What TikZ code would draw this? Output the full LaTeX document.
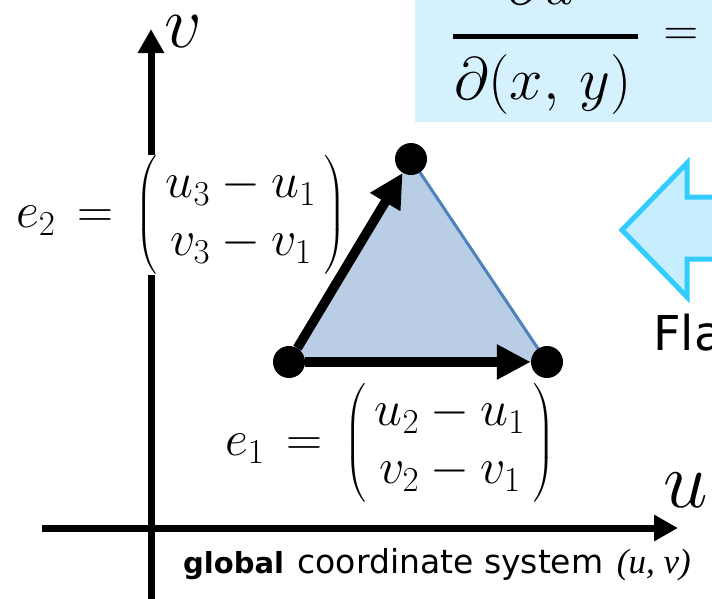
\RequirePackage{fix-cm}
\documentclass[tikz,border=0pt]{standalone}
\usepackage{amsmath}
\usepackage{fontspec}
\newfontfamily\labelfont{DejaVu Sans}
\newfontfamily\serifit{Liberation Serif}
\usetikzlibrary{arrows.meta}
\definecolor{boxblue}{HTML}{D5F1FD}
\definecolor{arrowfill}{HTML}{C6EEFF}
\definecolor{arrowline}{HTML}{33CCFF}
\definecolor{trifill}{HTML}{B9CDE5}
\definecolor{triedge}{HTML}{4F81BD}
\begin{document}
\begin{tikzpicture}[x=1pt,y=-1pt,
  axis/.style={line width=7pt,-{Triangle[length=24pt,width=25pt]}},
  edgevec/.style={line width=9.5pt,-{Triangle[length=34pt,width=33pt]}},
  vtx/.style={circle,fill=black,inner sep=0pt,minimum size=32pt},
  mathlbl/.style={inner sep=0pt,font=\fontsize{50}{58}\selectfont},
  axlbl/.style={inner sep=0pt,font=\fontsize{80}{80}\selectfont},
  fraclbl/.style={inner sep=0pt,font=\fontsize{60}{60}\selectfont},
  txtlbl/.style={inner sep=0pt,anchor=base west},
]
\useasboundingbox (0,0) rectangle (712,598);
\fill[white] (0,0) rectangle (712,598);

% formula box
\fill[boxblue] (415,-5) rectangle (720,122);
\coordinate (fracL) at (453,36.5);
\coordinate (fracR) at (638,36.5);
\draw[line width=4.5pt] (fracL) -- (fracR);
\node[fraclbl,anchor=base] (num) at (541,4) {$\partial u$};
\node[fraclbl] (den) at (543,84) {$\partial(x,\,y)$};
\node[inner sep=0pt,font=\fontsize{48}{48}\selectfont] (eq) at (681,37) {$=$};

% block arrow
\filldraw[draw=arrowline,fill=arrowfill,line width=5pt,line join=miter]
  (725,197) -- (687,197) -- (687,163) -- (622,230) -- (687,297) -- (687,259) -- (725,259) -- cycle;
\node[txtlbl,font=\labelfont\fontsize{48}{48}\selectfont] (flat) at (653,350) {Fla};

% axes
\coordinate (vb) at (151,610);
\coordinate (vt) at (151,29);
\coordinate (ul) at (42,528);
\coordinate (ur) at (678,528);
\draw[axis] (vb) -- (vt);
\draw[axis] (ul) -- (ur);
\node[axlbl,font=\fontsize{74}{74}\selectfont] (vlab) at (183,32) {$v$};
\node[axlbl] (ulab) at (686,490) {$u$};
\node[txtlbl,font=\labelfont\fontsize{33}{33}\selectfont] (glob) at (183,573)
  {{\fontsize{29}{29}\selectfont\bfseries global}\hspace{3pt} coordinate system\hspace{3pt} {\serifit\itshape\fontsize{35}{35}\selectfont (u, v)}};

% edge labels
\node[mathlbl,fill=white] (e2lab) at (181,215)
  {$e_2\,=\,\biggl(\,\begin{matrix} u_3 - u_1 \\ v_3 - v_1 \end{matrix}\,\biggr)$};
\node[mathlbl] (e1lab) at (390,443)
  {$e_1\,=\,\biggl(\,\begin{matrix} u_2 - u_1 \\ v_2 - v_1 \end{matrix}\,\biggr)$};

% triangle
\coordinate (p1) at (289,362);
\coordinate (p2) at (547,362);
\coordinate (p3) at (411,159);
\fill[trifill] (p1) -- (p2) -- (p3) -- cycle;
\draw[triedge,line width=3pt] (p2) -- (p3);
\node[vtx] (d1) at (p1) {};
\node[vtx] (d2) at (p2) {};
\node[vtx] (d3) at (p3) {};
\draw[edgevec] (d1) -- (d2);
\draw[edgevec] (d1) -- (d3);
\end{tikzpicture}
\end{document}
